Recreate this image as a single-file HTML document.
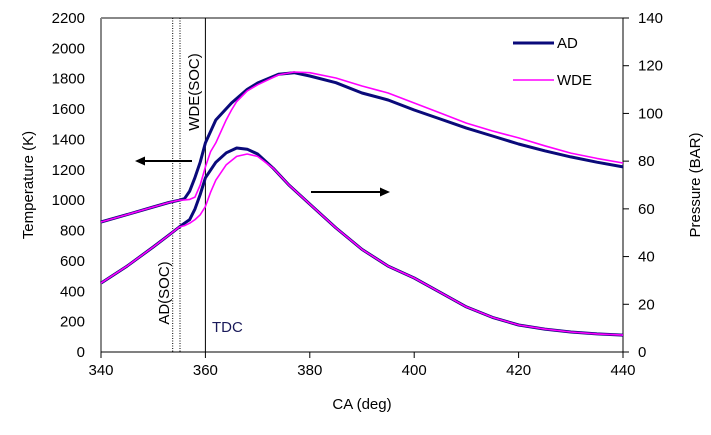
<!DOCTYPE html>
<html><head><meta charset="utf-8"><style>
body{margin:0;background:#fff;width:711px;height:430px;overflow:hidden}
svg text{font-family:"Liberation Sans",sans-serif;font-size:15px;fill:#000}
</style></head><body>
<svg id="chart" width="711" height="430">
<g id="plot"></g>
</svg>
<script>
const caAD=[340,345,350,353,355,356,357,358,359,360,362,365,368,370,374,377,380,385,390,395,400,405,410,415,420,425,430,435,440];
const tempAD=[856,905,955,985,1000,1010,1060,1150,1250,1377,1528,1640,1730,1772,1830,1840,1818,1774,1706,1660,1594,1535,1475,1423,1370,1325,1285,1250,1219];
const caWDE=[340,345,350,353,355,356,357,358,359,360,361,362,364,365,366,368,370,374,377,380,385,390,395,400,405,410,415,420,425,430,435,440];
const tempWDE=[856,905,955,985,1000,1002,1005,1020,1100,1219,1320,1377,1530,1594,1650,1720,1760,1825,1844,1840,1805,1752,1706,1640,1574,1508,1456,1410,1358,1310,1275,1245];
const caPAD=[340,345,350,353,355,356,357,358,359,360,362,364,366,368,370,373,376,380,385,390,395,400,405,410,415,420,425,430,435,440];
const presAD=[28.9,36,44,49,52.4,54,55.5,60,66,73,79.5,83.5,85.5,85,83,77,70,62,52,43,36,31,25,18.9,14.5,11.3,9.6,8.4,7.6,7.1];
const caPWDE=[340,345,350,353,355,356,357,358,359,360,361,362,364,366,368,370,373,376,380,385,390,395,400,405,410,415,420,425,430,435,440];
const presWDE=[28.9,36,44,49,52.4,53,54,55.5,57.5,61,67,72,78.5,82,83,82,77,70,62,52,43,36,31,25,18.9,14.5,11.3,9.6,8.4,7.6,7.1];
const xTicks=[340,360,380,400,420,440];
const yLTicks=[0,200,400,600,800,1000,1200,1400,1600,1800,2000,2200];
const yRTicks=[0,20,40,60,80,100,120,140];

const L=101,R=623,T=18,B=352;
const xs=v=>L+(v-340)/100*(R-L);
const yL=v=>B-v/2200*(B-T);
const yR=v=>B-v/140*(B-T);
const NS="http://www.w3.org/2000/svg";
const g=document.getElementById('plot');
function mk(tag,attrs,txt){const e=document.createElementNS(NS,tag);for(const k in attrs)e.setAttribute(k,attrs[k]);if(txt!==undefined)e.textContent=txt;g.appendChild(e);return e;}

let e;
e=mk('line',{x1:L,y1:T,x2:R,y2:T,stroke:'#888','stroke-width':2});


e=mk('line',{x1:L,y1:T,x2:L,y2:B,stroke:'#888','stroke-width':2});


e=mk('line',{x1:R,y1:T,x2:R,y2:B,stroke:'#000','stroke-width':1});


e=mk('line',{x1:L,y1:B,x2:R,y2:B,stroke:'#000','stroke-width':1});



xTicks.forEach(v=>{
 e=mk('line',{x1:xs(v),y1:B,x2:xs(v),y2:B+6,stroke:'#000'});
 
 
 e=mk('text',{x:xs(v),y:B+23,'text-anchor':'middle'},v);
 
 
});
yLTicks.forEach(v=>{
 e=mk('text',{x:85,y:yL(v)+5,'text-anchor':'end'},v);
 
 
});
yRTicks.forEach(v=>{
 e=mk('line',{x1:R,y1:yR(v),x2:R+6,y2:yR(v),stroke:'#000'});
 
 
 e=mk('text',{x:638,y:yR(v)+5,'text-anchor':'start'},v);
 
 
});

[172.7,180].forEach(x=>{
 e=mk('line',{x1:x,y1:T,x2:x,y2:B,stroke:'#000','stroke-dasharray':'1,1.5','stroke-width':1});
 
 
});
e=mk('line',{x1:xs(360),y1:T,x2:xs(360),y2:B,stroke:'#000','stroke-width':1});



function series(xa,ya,yf,col,w,name){
 const d=xa.map((x,i)=>(i?'L':'M')+xs(x).toFixed(1)+','+yf(ya[i]).toFixed(1)).join(' ');
 const p=mk('path',{d:d,fill:'none',stroke:col,'stroke-width':w,'stroke-linejoin':'round'});
 
 
}
series(caAD,tempAD,yL,'#0a0a7a',3,'temperature-ad-line');
series(caWDE,tempWDE,yL,'#ff00ff',1.6,'temperature-wde-line');
series(caPAD,presAD,yR,'#0a0a7a',3,'pressure-ad-line');
series(caPWDE,presWDE,yR,'#ff00ff',1.6,'pressure-wde-line');

e=mk('line',{x1:192,y1:161,x2:143,y2:161,stroke:'#000','stroke-width':2});


e=mk('polygon',{points:'135,161 145,156.5 145,165.5',fill:'#000'});


e=mk('line',{x1:311,y1:192,x2:382,y2:192,stroke:'#000','stroke-width':2});


e=mk('polygon',{points:'390,192 380,187.5 380,196.5',fill:'#000'});



e=mk('text',{x:0,y:0,transform:'translate(199,92) rotate(-90)','text-anchor':'middle'},'WDE(SOC)');


e=mk('text',{x:0,y:0,transform:'translate(169,293) rotate(-90)','text-anchor':'middle'},'AD(SOC)');


e=mk('text',{x:212,y:332,style:'fill:#1a1a5a'},'TDC');



e=mk('line',{x1:513,y1:43,x2:554,y2:43,stroke:'#0a0a7a','stroke-width':3});


e=mk('text',{x:557,y:48},'AD');


e=mk('line',{x1:513,y1:80,x2:554,y2:80,stroke:'#ff00ff','stroke-width':1.6});


e=mk('text',{x:557,y:85},'WDE');



e=mk('text',{x:0,y:0,transform:'translate(33,185) rotate(-90)','text-anchor':'middle'},'Temperature (K)');


e=mk('text',{x:0,y:0,transform:'translate(700,185) rotate(-90)','text-anchor':'middle'},'Pressure (BAR)');


e=mk('text',{x:362,y:409,'text-anchor':'middle'},'CA (deg)');


</script>
</body></html>
